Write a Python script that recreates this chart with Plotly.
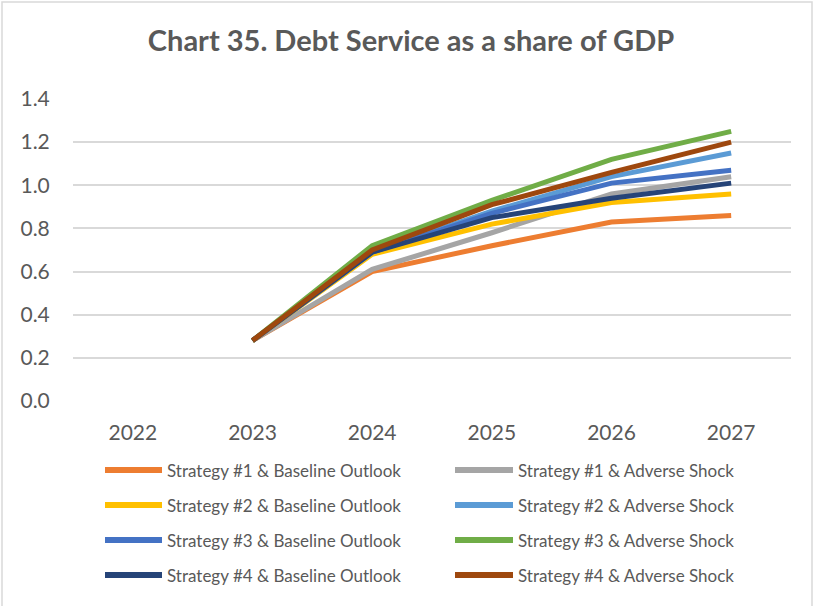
import plotly.graph_objects as go

# Debt service as a share of GDP, by strategy and outlook
years = ["2022", "2023", "2024", "2025", "2026", "2027"]

s1_baseline = [None, 0.28, 0.60, 0.72, 0.83, 0.86]
s1_adverse = [None, 0.28, 0.61, 0.78, 0.96, 1.04]
s2_baseline = [None, 0.28, 0.68, 0.82, 0.92, 0.96]
s2_adverse = [None, 0.28, 0.69, 0.88, 1.04, 1.15]
s3_baseline = [None, 0.28, 0.69, 0.87, 1.01, 1.07]
s3_adverse = [None, 0.28, 0.72, 0.93, 1.12, 1.25]
s4_baseline = [None, 0.28, 0.69, 0.85, 0.94, 1.01]
s4_adverse = [None, 0.28, 0.70, 0.91, 1.06, 1.20]

y_ticks = [0.0, 0.2, 0.4, 0.6, 0.8, 1.0, 1.2, 1.4]

series = [
    ("Strategy #1 & Baseline Outlook", s1_baseline, "#ED7D31"),
    ("Strategy #1 & Adverse Shock", s1_adverse, "#A5A5A5"),
    ("Strategy #2 & Baseline Outlook", s2_baseline, "#FFC000"),
    ("Strategy #2 & Adverse Shock", s2_adverse, "#5B9BD5"),
    ("Strategy #3 & Baseline Outlook", s3_baseline, "#4472C4"),
    ("Strategy #3 & Adverse Shock", s3_adverse, "#70AD47"),
    ("Strategy #4 & Baseline Outlook", s4_baseline, "#264478"),
    ("Strategy #4 & Adverse Shock", s4_adverse, "#9E480E"),
]

FONT = "Lato"
TEXT = "#595959"
W, H = 817, 606
L, R, T, B = 73, 26, 99, 205
PW, PH = W - L - R, H - T - B


def px_x(x):
    return (x - L) / PW


def px_y(y):
    return (H - B - y) / PH


fig = go.Figure()
for name, vals, color in series:
    fig.add_trace(go.Scatter(
        x=years, y=vals, name=name, mode="lines",
        line=dict(color=color, width=5),
        showlegend=False,
    ))

shapes = []
annotations = []

# Two-column legend below the plot
col_line_x = [(105, 162), (455, 513)]
col_text_x = [165, 516]
row_y = [470, 505, 540, 575]
for i, (name, vals, color) in enumerate(series):
    col, row = i % 2, i // 2
    x0, x1 = col_line_x[col]
    yy = row_y[row]
    shapes.append(dict(type="line", xref="paper", yref="paper",
                       x0=px_x(x0), x1=px_x(x1), y0=px_y(yy), y1=px_y(yy),
                       line=dict(color=color, width=6)))
    annotations.append(dict(xref="paper", yref="paper",
                            x=px_x(col_text_x[col]), y=px_y(yy),
                            xanchor="left", yanchor="middle", showarrow=False,
                            text=name, font=dict(family=FONT, size=17, color=TEXT)))

# Chart frame
shapes.append(dict(type="rect", xref="paper", yref="paper",
                   x0=px_x(2), x1=px_x(812), y0=px_y(2), y1=px_y(640),
                   line=dict(color="#D9D9D9", width=1.5), fillcolor="rgba(0,0,0,0)",
                   layer="below"))

fig.update_layout(
    width=W, height=H,
    margin=dict(l=L, r=R, t=T, b=B),
    paper_bgcolor="white", plot_bgcolor="white",
    title=dict(text="<b>Chart 35. Debt Service as a share of GDP</b>",
               x=px_x(411), xanchor="center", xref="paper",
               y=1 - 41 / H, yanchor="middle",
               font=dict(family=FONT, size=29, color=TEXT)),
    xaxis=dict(type="category", range=[-0.5, 5.5], showgrid=False, zeroline=False,
               showline=False, ticks="outside", ticklen=13, tickcolor="rgba(0,0,0,0)",
               tickfont=dict(family=FONT, size=21, color=TEXT)),
    yaxis=dict(range=[0, 1.4], tickvals=y_ticks, tickformat=".1f",
               showgrid=True, gridcolor="#D9D9D9", gridwidth=1.5,
               zeroline=False, showline=False,
               ticks="outside", ticklen=18, tickcolor="rgba(0,0,0,0)",
               tickfont=dict(family=FONT, size=21, color=TEXT)),
    shapes=shapes,
    annotations=annotations,
    showlegend=False,
)

fig.write_html("out.html")
